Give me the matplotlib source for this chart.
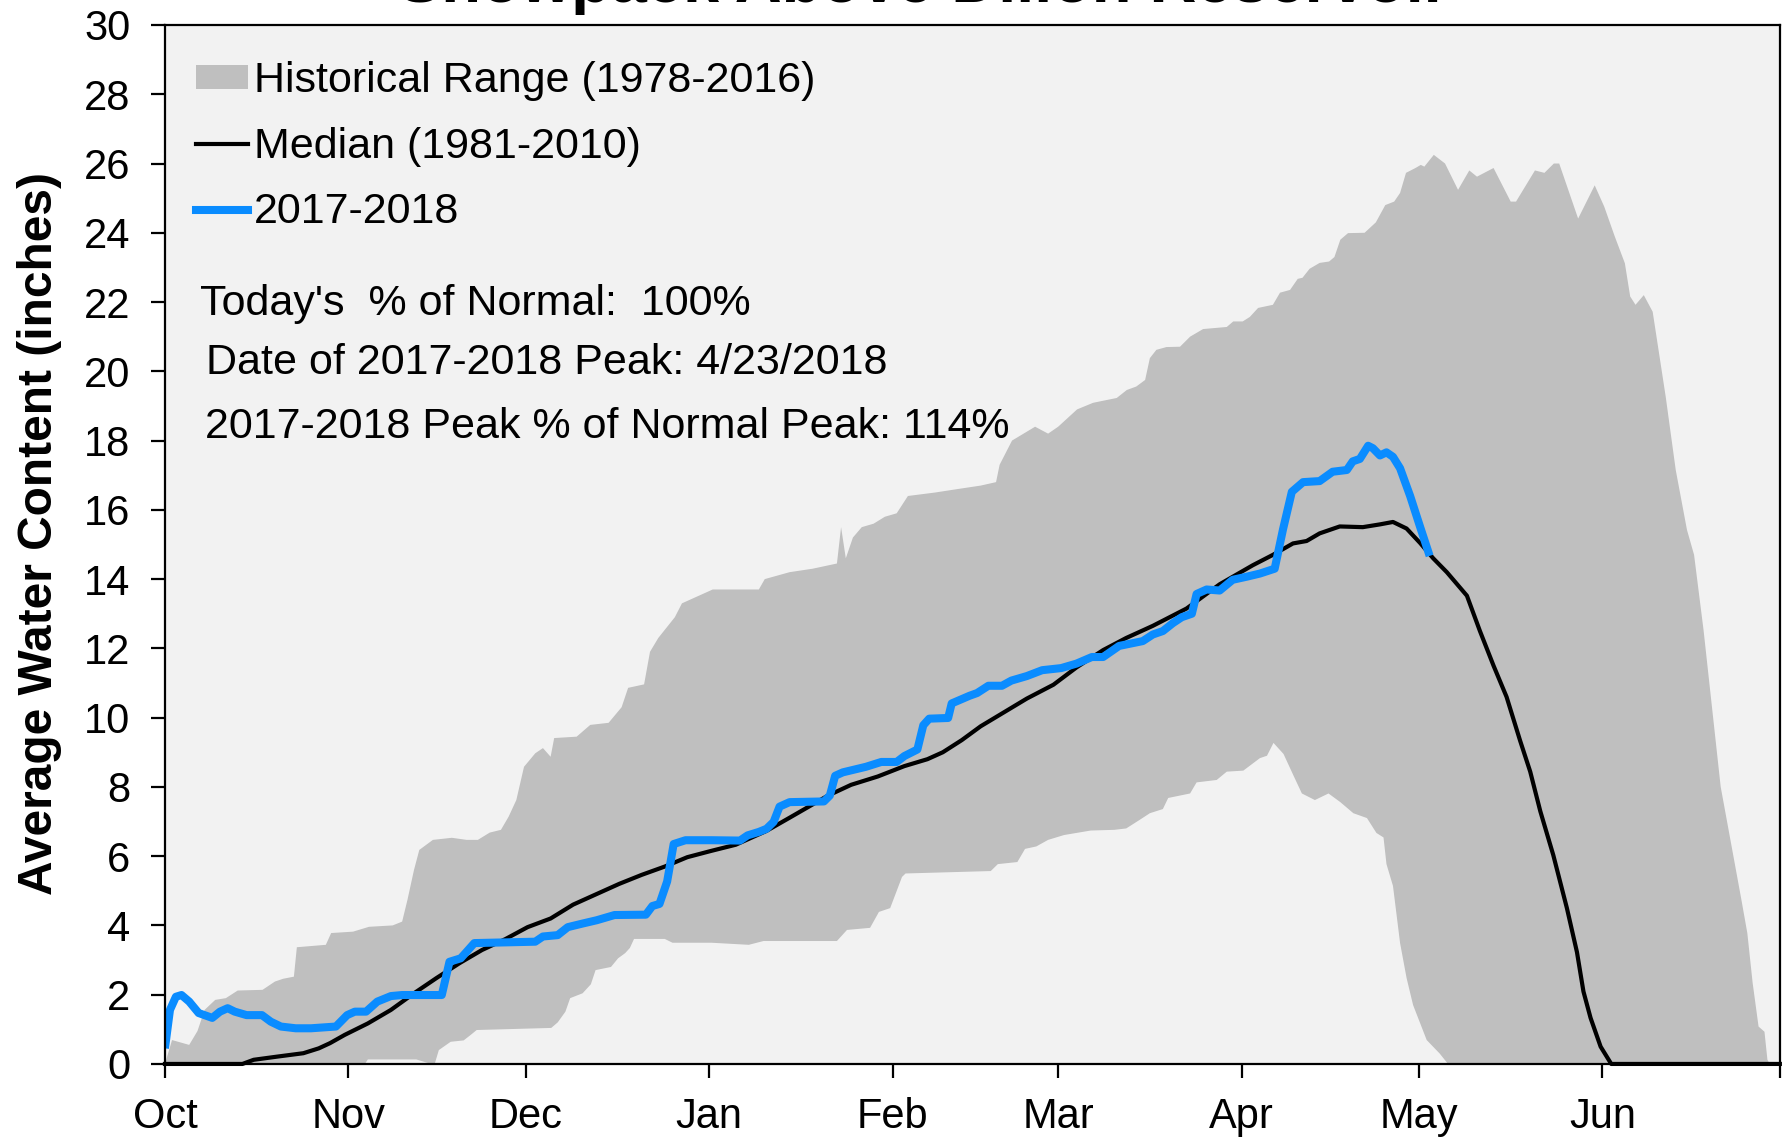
import numpy as np
import matplotlib
matplotlib.use('Agg')
import matplotlib.pyplot as plt
from matplotlib.patches import Patch
from matplotlib.lines import Line2D

plt.rcParams['font.family'] = ['Liberation Sans', 'DejaVu Sans']

# x = days since Oct 1 (water year), y = snow water equivalent (inches)
month_days = [0, 31, 61, 92, 123, 151, 182, 212, 243, 273]
month_labels = ['Oct', 'Nov', 'Dec', 'Jan', 'Feb', 'Mar', 'Apr', 'May', 'Jun', '']

# historical range, upper edge (max 1978-2016)
max_day = [0, 1.2, 4.1, 5.5, 6.7, 8.5, 10.3, 12.3, 16.5, 18.6, 20.0, 21.8, 22.3, 27.2, 28.1,
           31.8, 34.5, 38.5, 40.1, 41.0, 42.1, 43.0, 45.3, 48.5, 51.0, 52.9, 54.9, 56.8, 58.1,
           59.4, 60.7, 62.6, 63.9, 65.2, 65.8, 69.6, 71.9, 75.0, 77.2, 78.3, 81.0, 82.0, 83.4,
           86.2, 87.4, 90.0, 92.6, 100.4, 101.4, 105.6, 109.5, 113.6, 114.3, 115.1, 116.3,
           117.8, 119.8, 121.7, 123.7, 125.6, 130.2, 134.0, 137.9, 140.5, 141.1, 143.2, 147.1,
           149.3, 151.0, 154.2, 156.9, 158.6, 160.9, 162.6, 164.2, 165.7, 166.5, 167.6, 169.3,
           171.6, 173.3, 175.5, 179.5, 180.6, 182.2, 183.4, 184.8, 187.3, 188.5, 190.2, 191.5,
           192.3, 193.5, 195.2, 196.8, 197.7, 198.7, 200.0, 202.8, 204.7, 206.3, 207.8, 208.8,
           209.8, 211.4, 212.3, 212.9, 214.5, 216.4, 218.6, 220.5, 221.8, 224.6, 227.5, 228.4,
           231.6, 233.2, 234.8, 235.7, 238.9, 241.7, 243.3, 245.1, 246.8, 247.7, 248.6, 250.0,
           251.5, 253.7, 255.4, 257.3, 258.5, 260.1, 263.0, 266.5, 267.5, 268.4, 269.4, 270.4,
           270.9, 271.3, 273]
max_val = [0.0, 0.69, 0.55, 0.95, 1.56, 1.85, 1.9, 2.12, 2.14, 2.38, 2.46, 2.52, 3.37, 3.44, 3.78,
           3.82, 3.96, 4.0, 4.11, 4.74, 5.6, 6.18, 6.47, 6.53, 6.47, 6.47, 6.68, 6.76, 7.14,
           7.62, 8.58, 8.97, 9.12, 8.87, 9.41, 9.45, 9.79, 9.85, 10.3, 10.86, 10.96, 11.9, 12.3,
           12.9, 13.3, 13.5, 13.7, 13.7, 14.0, 14.2, 14.3, 14.45, 15.5, 14.6, 15.2,
           15.5, 15.6, 15.8, 15.9, 16.4, 16.5, 16.6, 16.7, 16.8, 17.3, 18.0, 18.4,
           18.2, 18.4, 18.9, 19.09, 19.15, 19.23, 19.46, 19.56, 19.75, 20.38, 20.62, 20.7,
           20.71, 21.0, 21.22, 21.28, 21.44, 21.44, 21.57, 21.83, 21.92, 22.27, 22.35, 22.67,
           22.7, 22.96, 23.13, 23.17, 23.3, 23.8, 23.99, 24.0, 24.3, 24.8, 24.9, 25.15,
           25.73, 25.87, 25.96, 25.91, 26.25, 26.0, 25.24, 25.8, 25.62, 25.87, 24.9, 24.9,
           25.8, 25.73, 26.0, 26.0, 24.41, 25.37, 24.76, 23.89, 23.12, 22.16, 21.92, 22.2,
           21.72, 19.27, 17.15, 15.42, 14.7, 12.53, 8.0, 4.74, 3.78, 2.34, 1.08, 0.93,
           0.12, 0.0, 0.0]

# historical range, lower edge (min 1978-2016)
min_day = [0, 33.8, 34.3, 42.5, 45.0, 45.6, 46.3, 48.3, 50.5, 51.7, 52.7, 65.3, 66.4, 67.7, 68.5,
           70.6, 72.0, 72.8, 75.4, 76.6, 77.8, 78.6, 79.3, 84.5, 85.8, 92.4, 98.7, 101.2, 113.6,
           115.3, 119.2, 120.7, 122.6, 124.6, 125.2, 139.6, 140.8, 144.1, 145.4, 147.3, 149.3,
           152.0, 156.5, 160.5, 162.5, 164.8, 166.5, 168.7, 169.6, 173.3, 174.4, 177.8, 179.5,
           182.3, 185.1, 186.3, 187.4, 189.1, 190.8, 192.2, 194.4, 196.7, 198.7, 200.9, 203.2,
           204.8, 206.0, 206.5, 207.6, 208.8, 209.9, 211.0, 213.3, 215.5, 216.9, 273]
min_val = [0.0, 0.0, 0.13, 0.13, 0.0, 0.0, 0.4, 0.64, 0.68, 0.84, 0.98, 1.04, 1.2, 1.51, 1.9,
           2.04, 2.3, 2.71, 2.8, 3.05, 3.2, 3.35, 3.61, 3.61, 3.5, 3.5, 3.44, 3.55, 3.55,
           3.87, 3.93, 4.39, 4.5, 5.4, 5.5, 5.57, 5.77, 5.83, 6.21, 6.28, 6.47,
           6.61, 6.74, 6.76, 6.8, 7.05, 7.24, 7.36, 7.68, 7.81, 8.13, 8.2, 8.44,
           8.47, 8.83, 8.9, 9.27, 8.95, 8.32, 7.81, 7.62, 7.81, 7.56, 7.24, 7.1,
           6.67, 6.54, 5.77, 5.14, 3.49, 2.48, 1.7, 0.69, 0.3, 0.0, 0.0]

# median 1981-2010
median_day = [0, 13.1, 15.0, 18.9, 23.4, 26.0, 27.9, 30.4, 34.3, 38.2, 42.1, 45.9, 49.8, 53.6,
              57.5, 61.3, 65.2, 69.0, 72.9, 76.8, 80.6, 84.5, 88.3, 92.3, 96.5, 101.7, 105.6,
              112.1, 116.0, 120.5, 125.0, 128.9, 131.5, 134.7, 137.9, 141.8, 145.7, 150.2,
              154.1, 158.6, 162.5, 167.0, 172.7, 178.3, 183.9, 187.3, 190.7, 193.0, 195.2,
              198.6, 202.5, 205.4, 207.6, 209.9, 212.2, 214.4, 216.7, 220.1, 222.3, 224.6,
              226.8, 229.1, 230.8, 232.5, 234.7, 237.0, 238.7, 239.8, 241.0, 242.7, 244.5, 273]
median_val = [0.0, 0.0, 0.12, 0.21, 0.31, 0.45, 0.6, 0.84, 1.17, 1.56, 2.04, 2.48, 2.91, 3.29,
              3.6, 3.95, 4.2, 4.6, 4.9, 5.2, 5.46, 5.7, 5.97, 6.15, 6.33, 6.73, 7.11,
              7.75, 8.06, 8.3, 8.6, 8.8, 9.0, 9.35, 9.75, 10.15, 10.55, 10.95,
              11.45, 11.95, 12.3, 12.65, 13.15, 13.85, 14.4, 14.7, 15.03, 15.1, 15.32,
              15.52, 15.5, 15.58, 15.65, 15.46, 15.04, 14.6, 14.2, 13.52, 12.5, 11.5,
              10.6, 9.33, 8.44, 7.3, 6.03, 4.5, 3.23, 2.09, 1.33, 0.5, 0.0, 0.0]

# 2017-2018 season
wy2018_day = [0, 0.85, 1.85, 2.8, 4.1, 5.7, 8.0, 9.3, 10.6, 11.8, 13.8, 16.4, 17.9, 19.6, 22.1,
              24.7, 28.9, 30.8, 32.1, 34.0, 35.9, 38.2, 40.1, 46.8, 48.1, 50.0, 51.0, 52.3,
              62.6, 63.9, 66.4, 68.1, 70.5, 73.0, 76.0, 81.3, 82.4, 83.6, 84.9, 86.0, 88.0,
              92.4, 97.2, 98.5, 100.4, 101.7, 102.9, 103.9, 105.6, 111.4, 112.4, 113.3, 114.6,
              118.5, 121.1, 123.7, 125.0, 127.2, 128.2, 129.2, 132.4, 133.0, 136.0, 137.3,
              139.2, 141.5, 143.1, 145.7, 148.3, 151.5, 154.1, 156.7, 158.6, 161.3, 165.3,
              167.0, 168.7, 170.4, 171.9, 173.6, 174.4, 176.1, 178.3, 180.5, 182.9, 185.1,
              187.6, 189.0, 190.5, 192.4, 195.2, 197.4, 199.8, 200.8, 202.0, 203.4, 204.2,
              205.4, 206.5, 207.6, 208.8, 210.5, 212.2, 213.8]
wy2018_val = [0.45, 1.56, 1.94, 1.99, 1.8, 1.47, 1.33, 1.51, 1.61, 1.51, 1.41, 1.41, 1.22, 1.08, 1.03,
              1.03, 1.08, 1.41, 1.51, 1.51, 1.8, 1.96, 1.99, 1.99, 2.95, 3.05, 3.24, 3.49,
              3.53, 3.68, 3.72, 3.95, 4.05, 4.15, 4.3, 4.31, 4.56, 4.62, 5.27, 6.35, 6.46,
              6.46, 6.45, 6.6, 6.7, 6.79, 6.99, 7.43, 7.56, 7.58, 7.75, 8.32, 8.42,
              8.58, 8.72, 8.72, 8.89, 9.08, 9.78, 9.97, 9.99, 10.41, 10.63, 10.71,
              10.92, 10.92, 11.07, 11.2, 11.37, 11.43, 11.56, 11.75, 11.75, 12.07, 12.21,
              12.4, 12.5, 12.73, 12.9, 13.0, 13.57, 13.7, 13.67, 13.98, 14.07, 14.16,
              14.3, 15.43, 16.52, 16.8, 16.83, 17.1, 17.15, 17.4, 17.47, 17.85, 17.78,
              17.57, 17.66, 17.53, 17.2, 16.4, 15.5, 14.67]

notes = ["Today's  % of Normal:  100%",
         "Date of 2017-2018 Peak: 4/23/2018",
         "2017-2018 Peak % of Normal Peak: 114%"]

BAND = '#bfbfbf'
BLUE = '#0a8cff'

fig = plt.figure(figsize=(17.87, 11.46), dpi=100)
ax = fig.add_axes([0.0923, 0.0716, 0.9037, 0.9066])
ax.set_facecolor('#f2f2f2')

# band = polygon upper edge forward, lower edge back
band_x = np.concatenate([max_day, min_day[::-1]])
band_y = np.concatenate([max_val, min_val[::-1]])
ax.fill(band_x, band_y, color=BAND, lw=0, zorder=1)

ax.plot(median_day, median_val, color='black', lw=3.0, zorder=3, clip_on=False)
ax.plot(wy2018_day, wy2018_val, color=BLUE, lw=5.8, zorder=4, solid_capstyle='butt')

ax.set_xlim(0, 273)
ax.set_ylim(0, 30)
ax.set_xticks(month_days)
ax.set_xticklabels(month_labels)
ax.set_yticks(np.arange(0, 31, 2))
ax.tick_params(axis='both', direction='out', length=10, width=1.6, labelsize=30, colors='black')
ax.tick_params(axis='y', pad=15)
ax.tick_params(axis='x', pad=14)
for s in ax.spines.values():
    s.set_linewidth(1.6)
    s.set_zorder(5)

ax.set_ylabel('Average Water Content (inches)', fontsize=34.5, fontweight='bold')
ax.yaxis.set_label_coords(-0.064, 0.511)

handles = [Patch(facecolor=BAND, edgecolor='none'),
           Line2D([0], [0], color='black', lw=3.0),
           Line2D([0], [0], color=BLUE, lw=5.8)]
labels = ['Historical Range (1978-2016)', 'Median (1981-2010)', '2017-2018']
ax.legend(handles, labels, loc='upper left', bbox_to_anchor=(0.0192, 0.965), frameon=False,
          fontsize=31, handlelength=1.2, handleheight=0.45, handletextpad=0.15,
          labelspacing=0.59, borderpad=0, borderaxespad=0)

note_pos = [(0.0217, 0.731), (0.0254, 0.675), (0.0248, 0.613)]
for (tx, ty), t in zip(note_pos, notes):
    ax.text(tx, ty, t, transform=ax.transAxes, fontsize=31, va='center', ha='left')

# title sits mostly above the canvas, as in the source image
fig.text(0.5166, 1 - 2 / 1146, 'Snowpack Above Dillon Reservoir', ha='center', va='baseline',
         fontsize=46.8, fontweight='bold')

fig.savefig('out.png', dpi=100)
